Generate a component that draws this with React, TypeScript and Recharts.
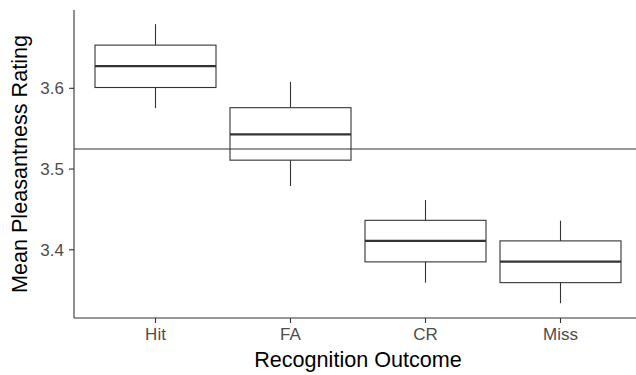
import React from "react";
import {
  ComposedChart,
  Bar,
  XAxis,
  YAxis,
  ReferenceLine,
  Label,
} from "recharts";

const outcomes = ["Hit", "FA", "CR", "Miss"];
const whiskerLow = [3.5755, 3.479, 3.3593, 3.3338];
const q1 = [3.601, 3.511, 3.385, 3.3593];
const median = [3.6275, 3.543, 3.411, 3.3853];
const q3 = [3.6535, 3.576, 3.4365, 3.411];
const whiskerHigh = [3.6795, 3.608, 3.4616, 3.436];
const overallMean = 3.5248;
const yTicks = [3.4, 3.5, 3.6];

const data = outcomes.map((name, i) => ({
  name,
  min: whiskerLow[i],
  q1: q1[i],
  median: median[i],
  q3: q3[i],
  max: whiskerHigh[i],
  range: [whiskerLow[i], whiskerHigh[i]],
}));

const INK = "#333333";

function BoxShape(props: any) {
  const { x, y, width, height, payload } = props;
  const top = Math.min(y, y + height);
  const bottom = Math.max(y, y + height);
  const span = payload.max - payload.min;
  // map a value into the bar's pixel span (bar covers min..max)
  const toY = (v: number) => top + ((payload.max - v) / span) * (bottom - top);
  const cx = x + width / 2;
  const yq3 = toY(payload.q3);
  const yq1 = toY(payload.q1);
  const ymed = toY(payload.median);
  return (
    <g>
      <line x1={cx} x2={cx} y1={top} y2={bottom} stroke={INK} strokeWidth={1.1} />
      <rect
        x={x}
        y={yq3}
        width={width}
        height={yq1 - yq3}
        fill="#ffffff"
        stroke={INK}
        strokeWidth={1.1}
      />
      <line x1={x} x2={x + width} y1={ymed} y2={ymed} stroke={INK} strokeWidth={2.2} />
    </g>
  );
}

export default function App() {
  return (
    <div
      style={{
        position: "absolute",
        left: 0,
        top: 0,
        width: 636,
        height: 375,
        overflow: "hidden",
        background: "#ffffff",
      }}
    >
      <ComposedChart
        width={642}
        height={375}
        data={data}
        margin={{ top: 10, right: 0, bottom: 0, left: 0 }}
        style={{ fontFamily: "'Liberation Sans', Arial, sans-serif" }}
      >
        <XAxis
          dataKey="name"
          type="category"
          height={57}
          padding={{ left: 14, right: 14 }}
          tickSize={5}
          tickMargin={5}
          tick={{ fill: "#4d4d4d", fontSize: 17 }}
          axisLine={{ stroke: INK, strokeWidth: 1.1 }}
          tickLine={{ stroke: INK, strokeWidth: 1.1 }}
        >
          <Label
            value="Recognition Outcome"
            position="insideBottom"
            offset={8}
            style={{ fill: "#000000", fontSize: 21.6 }}
          />
        </XAxis>
        <YAxis
          type="number"
          width={74}
          domain={[3.3155, 3.697]}
          ticks={yTicks}
          allowDataOverflow
          tickSize={5}
          tickMargin={5}
          tickFormatter={(v: number) => v.toFixed(1)}
          tick={{ fill: "#4d4d4d", fontSize: 17 }}
          axisLine={{ stroke: INK, strokeWidth: 1.1 }}
          tickLine={{ stroke: INK, strokeWidth: 1.1 }}
        >
          <Label
            value="Mean Pleasantness Rating"
            angle={-90}
            position="insideLeft"
            offset={19}
            style={{ fill: "#000000", fontSize: 21.6, textAnchor: "middle" }}
          />
        </YAxis>
        <Bar
          dataKey="range"
          barSize={121}
          shape={BoxShape}
          isAnimationActive={false}
        />
        <ReferenceLine y={overallMean} stroke={INK} strokeWidth={1.1} />
      </ComposedChart>
    </div>
  );
}
